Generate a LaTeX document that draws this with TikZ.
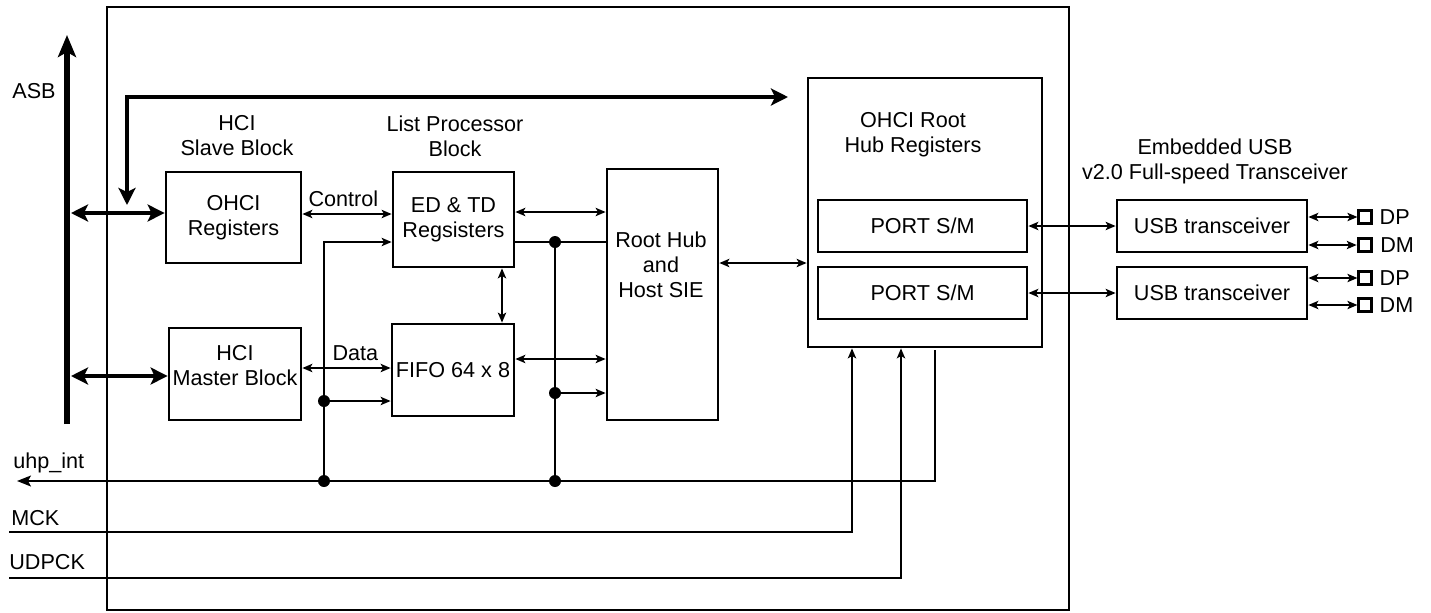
\documentclass[tikz,border=0pt]{standalone}
\usepackage{fontspec}
\setmainfont{Liberation Sans}
\usepackage{tikz}
\usetikzlibrary{calc,arrows.meta}

\tikzset{
  blk/.style={draw,line width=1.4pt,inner sep=0pt,align=center},
  sig/.style={line width=0.7pt},
  bus/.style={line width=2pt,>={Stealth[length=8.5pt,width=8.5pt,inset=2pt]}},
  padbox/.style={draw,line width=1.1pt,minimum size=6.5pt,inner sep=0pt},
  sigtext/.style={anchor=base west,inner sep=0pt},
}

\begin{document}
\begin{tikzpicture}[x=0.5pt,y=-0.5pt,>={Stealth[length=5pt,width=4.2pt,inset=1.2pt]},
  every node/.style={font=\fontsize{10.8}{12.5}\selectfont}]
  \useasboundingbox (0,0) rectangle (1431,612);

  % chip outline
  \draw[line width=1pt] (107,7) rectangle (1069,610);

  % blocks
  \node[blk,minimum width=67.5pt,minimum height=45.5pt] (slave) at (233.5,217.5) {OHCI\\Registers};
  \node[blk,minimum width=66pt,minimum height=46pt] (master) at (235,374) {};
  \node[blk,minimum width=60.5pt,minimum height=47.5pt] (edtd) at (453.5,219.5) {ED \& TD\\Regsisters};
  \node[blk,minimum width=61pt,minimum height=46pt] (fifo) at (453,370) {FIFO 64 x 8};
  \node[blk,minimum width=55.5pt,minimum height=125.5pt] (roothub) at (662.5,294.5) {};
  \node[blk,minimum width=117pt,minimum height=134.5pt] (ohciroot) at (925,212.5) {};
  \node[blk,minimum width=104.5pt,minimum height=26pt] (port1) at (922.5,226) {PORT S/M};
  \node[blk,minimum width=104.5pt,minimum height=26pt] (port2) at (922.5,293) {PORT S/M};
  \node[blk,minimum width=95pt,minimum height=26pt] (usb1) at (1212,226) {USB transceiver};
  \node[blk,minimum width=95pt,minimum height=26pt] (usb2) at (1212,293) {USB transceiver};

  % titles
  \node[align=center] (slavet) at (237,136) {HCI\\Slave Block};
  \node[align=center] (lpt) at (455,136) {List Processor\\Block};
  \node[align=center] (mastert) at (235,366) {HCI\\Master Block};
  \node[align=center] (rht) at (661,265) {Root Hub\\and\\Host SIE};
  \node[align=center] (roott) at (913,135) {OHCI Root\\Hub Registers};
  \node[align=center] (embt) at (1215,161) {Embedded USB\\v2.0 Full-speed Transceiver};

  % ASB bus
  \coordinate (asbbot) at (67,424);
  \coordinate (asbtop) at (67,35);
  \draw[line width=3pt,-{Stealth[length=11pt,width=9pt,inset=2.5pt]}] (asbbot) -- (asbtop);
  \node[sigtext] (asb) at (12,98) {ASB};

  \coordinate (busdn) at (127,205);
  \coordinate (busrt) at (788,97);
  \draw[bus,<->] (busdn) |- (busrt);

  \coordinate (slvin) at (71,213);
  \coordinate (mstin) at (71,376);
  \draw[bus,<->] (slvin) -- (slvin -| slave.west);
  \draw[bus,<->] (mstin) -- (mstin -| master.west);

  % internal links
  \coordinate (yctl) at (0,214);
  \coordinate (ydat) at (0,368);
  \coordinate (yedi) at (0,242);
  \coordinate (yer) at (0,212);
  \coordinate (yfr) at (0,359);
  \coordinate (yro) at (0,263);
  \coordinate (xef) at (502,0);

  \draw[sig,<->] (slave.east |- yctl) -- node[above,pos=0.46] (ctl) {Control} (edtd.west |- yctl);
  \draw[sig,<->] (master.east |- ydat) -- node[above,pos=0.6] (dat) {Data} (fifo.west |- ydat);
  \draw[sig,<->] (edtd.east |- yer) -- (roothub.west |- yer);
  \draw[sig,<->] (fifo.east |- yfr) -- (roothub.west |- yfr);
  \draw[sig,<->] (xef |- edtd.south) -- (xef |- fifo.north);
  \draw[sig,<->] (roothub.east |- yro) -- (ohciroot.west |- yro);
  \draw[sig,<->] (port1.east) -- (usb1.west);
  \draw[sig,<->] (port2.east) -- (usb2.west);

  % junctions
  \coordinate (jl1) at (324,481);
  \coordinate (jl2) at (324,401);
  \coordinate (jr1) at (555,481);
  \coordinate (jr2) at (555,393);
  \coordinate (jr3) at (555,242);

  \draw[sig,->] (jl1) |- (edtd.west |- yedi);
  \draw[sig,->] (jl2) -- (fifo.west |- jl2);
  \draw[sig] (edtd.east |- yedi) -- (roothub.west |- yedi);
  \draw[sig] (jr1) -- (jr3);
  \draw[sig,->] (jr2) -- (roothub.west |- jr2);

  \fill (jl1) circle (3pt);
  \fill (jl2) circle (3pt);
  \fill (jr1) circle (3pt);
  \fill (jr2) circle (3pt);
  \fill (jr3) circle (3pt);

  % pads
  \node[padbox] (dp1) at (1365,217) {};
  \node[padbox,line width=1.8pt] (dm1) at (1365,245) {};
  \node[padbox] (dp2) at (1365,278) {};
  \node[padbox] (dm2) at (1365,305) {};
  \node[anchor=west] (dp1t) at (dp1.east) {DP};
  \node[anchor=west] (dm1t) at (dm1.east) {DM};
  \node[anchor=west] (dp2t) at (dp2.east) {DP};
  \node[anchor=west] (dm2t) at (dm2.east) {DM};
  \draw[sig,<->] (usb1.east |- dp1) -- (dp1.west);
  \draw[sig,<->] (usb1.east |- dm1) -- (dm1.west);
  \draw[sig,<->] (usb2.east |- dp2) -- (dp2.west);
  \draw[sig,<->] (usb2.east |- dm2) -- (dm2.west);

  % side signals
  \coordinate (uhpup) at (935,350);
  \coordinate (uhpend) at (17,481);
  \draw[sig,-{Stealth[length=7pt,width=5.5pt,inset=1.5pt]}] (uhpup) |- (uhpend);
  \node[sigtext] (uhp) at (13,468) {uhp\_int};

  \coordinate (mck) at (9,532);
  \coordinate (mckx) at (852,0);
  \draw[sig,->] (mck) -| (mckx |- ohciroot.south);
  \node[sigtext] (mckt) at (11,525) {MCK};

  \coordinate (udp) at (9,578);
  \coordinate (udpx) at (901,0);
  \draw[sig,->] (udp) -| (udpx |- ohciroot.south);
  \node[sigtext] (udpt) at (9,569) {UDPCK};
\end{tikzpicture}
\end{document}
